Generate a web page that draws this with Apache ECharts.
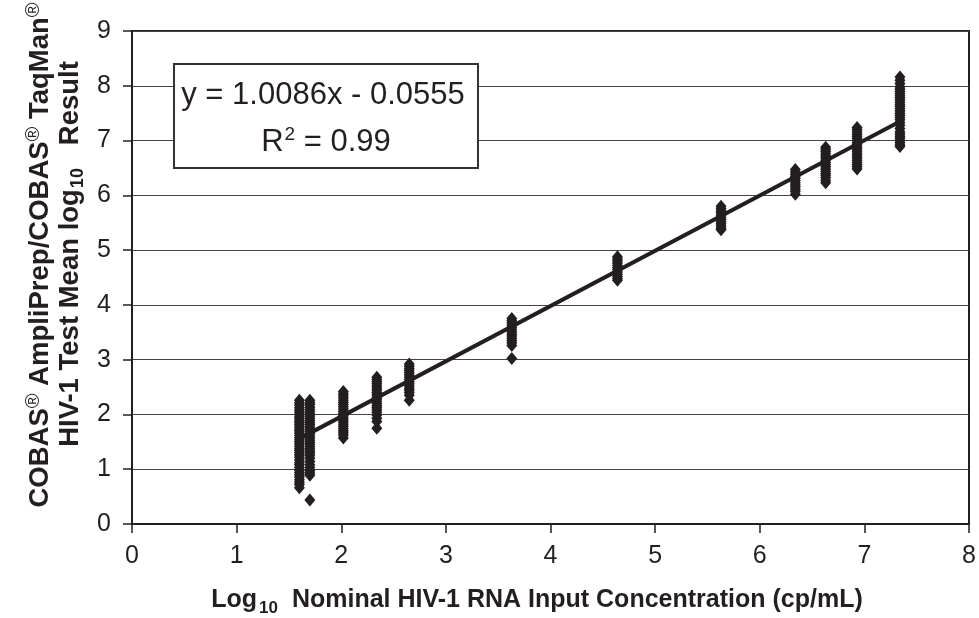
<!DOCTYPE html>
<html>
<head>
<meta charset="utf-8">
<script src="https://cdn.jsdelivr.net/npm/echarts@6/dist/echarts.min.js"></script>
<style>
html,body{margin:0;padding:0;background:#fff;}
#chart{width:979px;height:618px;}
</style>
</head>
<body>
<div id="chart"></div>
<script>
// Nominal log10 input levels (x) and the measured log10 results read from each column
var levels = [1.6, 1.7, 2.02, 2.34, 2.65, 3.63, 4.64, 5.63, 6.34, 6.63, 6.93, 7.34];
var results = [
  [2.26,2.21,2.17,2.12,2.08,2.04,2.0,1.96,1.92,1.88,1.85,1.81,1.77,1.73,1.7,1.66,1.62,1.58,1.54,1.5,1.46,1.42,1.38,1.34,1.3,1.26,1.22,1.17,1.12,1.08,1.03,0.98,0.94,0.9,0.86,0.81,0.76,0.72,0.66],
  [2.26,2.22,2.18,2.13,2.09,2.05,2.01,1.97,1.93,1.89,1.85,1.81,1.77,1.73,1.69,1.65,1.61,1.57,1.53,1.49,1.45,1.41,1.37,1.33,1.29,1.25,1.2,1.14,1.08,1.03,0.97,0.93,0.89,0.44],
  [2.42,2.38,2.34,2.3,2.26,2.22,2.18,2.14,2.1,2.06,2.02,1.98,1.94,1.9,1.86,1.82,1.78,1.74,1.7,1.66,1.62,1.57],
  [2.68,2.64,2.6,2.56,2.52,2.48,2.44,2.4,2.36,2.32,2.28,2.24,2.2,2.16,2.12,2.08,2.04,1.99,1.93,1.87,1.75],
  [2.92,2.88,2.84,2.8,2.76,2.72,2.68,2.64,2.6,2.56,2.52,2.48,2.44,2.4,2.35,2.26],
  [3.75,3.71,3.67,3.63,3.59,3.55,3.51,3.47,3.43,3.39,3.35,3.31,3.26,3.02],
  [4.88,4.84,4.8,4.76,4.72,4.68,4.64,4.6,4.56,4.52,4.48,4.45],
  [5.8,5.76,5.72,5.68,5.64,5.6,5.56,5.52,5.48,5.44,5.4,5.37],
  [6.47,6.43,6.39,6.35,6.31,6.27,6.23,6.19,6.15,6.11,6.07,6.02],
  [6.88,6.84,6.8,6.76,6.72,6.68,6.64,6.6,6.56,6.52,6.48,6.44,6.4,6.36,6.32,6.27,6.23],
  [7.24,7.2,7.16,7.12,7.08,7.04,7.0,6.96,6.92,6.88,6.84,6.8,6.76,6.72,6.68,6.64,6.6,6.56,6.52,6.48],
  [8.16,8.1,8.04,7.98,7.94,7.9,7.86,7.82,7.78,7.74,7.7,7.66,7.62,7.58,7.54,7.5,7.46,7.42,7.38,7.33,7.28,7.22,7.16,7.12,7.08,7.04,7.0,6.96,6.92,6.89]
];
// Regression shown on the chart
var slope = 1.0086;
var intercept = -0.0555;
var rSquared = '0.99';
var xTicks = [0, 8, 1];
var yTicks = [0, 9, 1];

var FONT = "'Liberation Sans', Arial, Helvetica, sans-serif";
var INK = '#231f20';

var points = [];
levels.forEach(function (x, i) {
  results[i].forEach(function (y) { points.push([x, y]); });
});
var xMinData = levels[0], xMaxData = levels[levels.length - 1];
var trend = [[xMinData, slope * xMinData + intercept], [xMaxData, slope * xMaxData + intercept]];

var chart = echarts.init(document.getElementById('chart'), null, {renderer: 'canvas'});
chart.setOption({
  animation: false,
  backgroundColor: '#fff',
  textStyle: {fontFamily: FONT},
  grid: {left: 132, right: 10, top: 31, bottom: 94, show: true, borderColor: INK, borderWidth: 2, backgroundColor: 'transparent'},
  xAxis: {
    type: 'value', min: xTicks[0], max: xTicks[1], interval: xTicks[2],
    axisLine: {show: true, onZero: false, lineStyle: {color: INK, width: 2}},
    axisTick: {show: true, length: 9, lineStyle: {color: INK, width: 1.5}},
    axisLabel: {color: INK, fontSize: 25, fontFamily: FONT, margin: 20},
    splitLine: {show: false}
  },
  yAxis: {
    type: 'value', min: yTicks[0], max: yTicks[1], interval: yTicks[2],
    axisLine: {show: true, onZero: false, lineStyle: {color: INK, width: 2}},
    axisTick: {show: true, length: 9, lineStyle: {color: INK, width: 1.5}},
    axisLabel: {color: INK, fontSize: 25, fontFamily: FONT, margin: 21},
    splitLine: {show: true, lineStyle: {color: '#444', width: 1.2}}
  },
  series: [
    {
      type: 'line', data: trend, symbol: 'none', silent: true, z: 2,
      lineStyle: {color: INK, width: 4}
    },
    {
      type: 'scatter', data: points, symbol: 'diamond', symbolSize: [11, 13], z: 3,
      itemStyle: {color: INK, opacity: 1}
    }
  ],
  graphic: [
    {
      type: 'rect', z: 100,
      shape: {x: 174, y: 64, width: 304, height: 104},
      style: {fill: '#fff', stroke: '#333', lineWidth: 2}
    },
    {
      type: 'text', z: 101, x: 323, y: 95,
      style: {text: 'y = 1.0086x - 0.0555', fontSize: 31, fontFamily: FONT, fill: INK, align: 'center', verticalAlign: 'middle'}
    },
    {
      type: 'text', z: 101, x: 326, y: 142,
      style: {
        text: '{m|R}{p|2}{m| = ' + rSquared + '}',
        align: 'center', verticalAlign: 'middle', fill: INK, fontFamily: FONT,
        rich: {
          m: {fontSize: 31, fontFamily: FONT, fill: INK, lineHeight: 34},
          p: {fontSize: 19, fontFamily: FONT, fill: INK, lineHeight: 19, padding: [0, 0, 14, 1]}
        }
      }
    },
    {
      type: 'text', z: 101, x: 537, y: 600,
      style: {
        text: '{m|Log}{s|10}{m|  Nominal HIV-1 RNA Input Concentration (cp/mL)}',
        align: 'center', verticalAlign: 'middle', fill: INK, fontFamily: FONT,
        rich: {
          m: {fontSize: 25, fontWeight: 'bold', fontFamily: FONT, fill: INK, lineHeight: 30},
          s: {fontSize: 17, fontWeight: 'bold', fontFamily: FONT, fill: INK, lineHeight: 17, padding: [16, 0, 0, 2]}
        }
      }
    },
    {
      type: 'text', z: 101, x: 40, y: 255, rotation: Math.PI / 2,
      style: {
        text: '{m|COBAS}{r|®}{m| AmpliPrep/COBAS}{r|®}{m| TaqMan}{r|®}',
        align: 'center', verticalAlign: 'middle', fill: INK, fontFamily: FONT,
        rich: {
          m: {fontSize: 27.5, fontWeight: 'bold', fontFamily: FONT, fill: INK, lineHeight: 30},
          r: {fontSize: 20, fontFamily: FONT, fill: INK, lineHeight: 20, padding: [0, 0, 14, 0]}
        }
      }
    },
    {
      type: 'text', z: 101, x: 70, y: 254, rotation: Math.PI / 2,
      style: {
        text: '{m|HIV-1 Test Mean log}{s|10}{m|   Result}',
        align: 'center', verticalAlign: 'middle', fill: INK, fontFamily: FONT,
        rich: {
          m: {fontSize: 27.5, fontWeight: 'bold', fontFamily: FONT, fill: INK, lineHeight: 30},
          s: {fontSize: 18, fontWeight: 'bold', fontFamily: FONT, fill: INK, lineHeight: 18, padding: [16, 0, 0, 1]}
        }
      }
    }
  ]
});
</script>
</body>
</html>
